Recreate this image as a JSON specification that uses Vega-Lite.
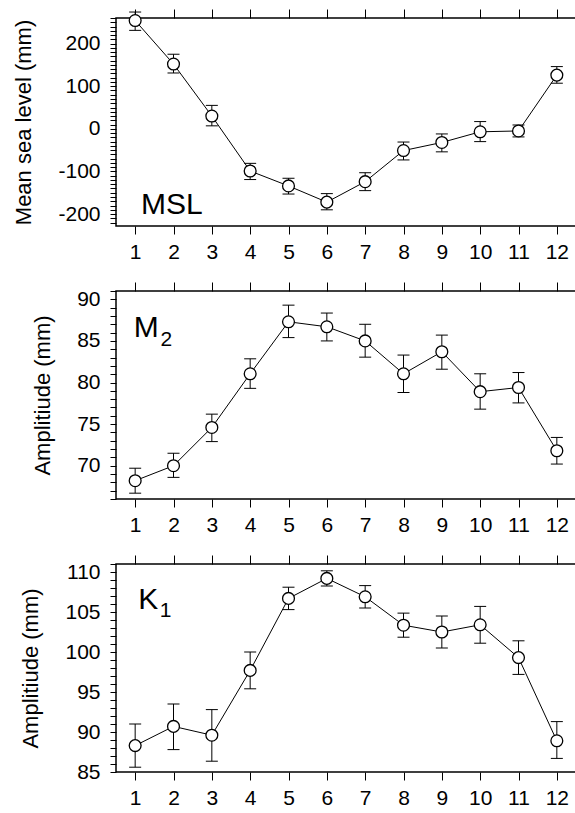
{
  "$schema": "https://vega.github.io/schema/vega-lite/v6.json",
  "background": "white",
  "padding": {"left": 12, "top": 6, "right": 1, "bottom": 0},
  "spacing": 16,
  "datasets": {
    "msl": [
      {"month": 1, "value": 254, "lo": 231, "hi": 274},
      {"month": 2, "value": 152, "lo": 131, "hi": 175},
      {"month": 3, "value": 30, "lo": 7, "hi": 55},
      {"month": 4, "value": -99, "lo": -119, "hi": -81},
      {"month": 5, "value": -134, "lo": -153, "hi": -116},
      {"month": 6, "value": -172, "lo": -190, "hi": -152},
      {"month": 7, "value": -124, "lo": -145, "hi": -103},
      {"month": 8, "value": -51, "lo": -73, "hi": -31},
      {"month": 9, "value": -32, "lo": -54, "hi": -12},
      {"month": 10, "value": -7, "lo": -30, "hi": 17},
      {"month": 11, "value": -5, "lo": -19, "hi": 9},
      {"month": 12, "value": 126, "lo": 107, "hi": 146}
    ],
    "m2": [
      {"month": 1, "value": 68.2, "lo": 66.7, "hi": 69.7},
      {"month": 2, "value": 70.0, "lo": 68.6, "hi": 71.5},
      {"month": 3, "value": 74.6, "lo": 72.9, "hi": 76.2},
      {"month": 4, "value": 81.05, "lo": 79.3, "hi": 82.85},
      {"month": 5, "value": 87.3, "lo": 85.4, "hi": 89.3},
      {"month": 6, "value": 86.7, "lo": 85.0, "hi": 88.35},
      {"month": 7, "value": 85.0, "lo": 83.05, "hi": 87.0},
      {"month": 8, "value": 81.05, "lo": 78.8, "hi": 83.3},
      {"month": 9, "value": 83.7, "lo": 81.6, "hi": 85.7},
      {"month": 10, "value": 78.9, "lo": 76.8, "hi": 81.05},
      {"month": 11, "value": 79.4, "lo": 77.55, "hi": 81.2},
      {"month": 12, "value": 71.8, "lo": 70.2, "hi": 73.4}
    ],
    "k1": [
      {"month": 1, "value": 88.3, "lo": 85.6, "hi": 91.0},
      {"month": 2, "value": 90.7, "lo": 87.8, "hi": 93.5},
      {"month": 3, "value": 89.6, "lo": 86.35, "hi": 92.8},
      {"month": 4, "value": 97.7, "lo": 95.4, "hi": 100.0},
      {"month": 5, "value": 106.7, "lo": 105.3, "hi": 108.1},
      {"month": 6, "value": 109.2, "lo": 108.25, "hi": 110.15},
      {"month": 7, "value": 106.9, "lo": 105.5, "hi": 108.3},
      {"month": 8, "value": 103.35, "lo": 101.85, "hi": 104.86},
      {"month": 9, "value": 102.5, "lo": 100.5, "hi": 104.5},
      {"month": 10, "value": 103.4, "lo": 101.1, "hi": 105.7},
      {"month": 11, "value": 99.3, "lo": 97.2, "hi": 101.4},
      {"month": 12, "value": 88.9, "lo": 86.7, "hi": 91.3}
    ]
  },
  "vconcat": [
    {
      "width": 460,
      "height": 208,
      "data": {"name": "msl"},
      "resolve": {"axis": {"x": "independent", "y": "independent"}},
      "layer": [
        {
          "mark": {"type": "line", "color": "black", "strokeWidth": 1},
          "encoding": {
            "x": {
              "field": "month", "type": "quantitative",
              "scale": {"domain": [0.5, 12.5], "nice": false, "zero": false},
              "axis": {"orient": "bottom", "values": [1, 2, 3, 4, 5, 6, 7, 8, 9, 10, 11, 12], "tickSize": 8, "labelPadding": 7, "format": "d", "title": null}
            },
            "y": {
              "field": "value", "type": "quantitative",
              "scale": {"domain": [-228, 260], "nice": false, "zero": false},
              "axis": {
                "orient": "left",
                "title": "Mean sea level (mm)",
                "values": [-220, -210, -200, -190, -180, -170, -160, -150, -140, -130, -120, -110, -100, -90, -80, -70, -60, -50, -40, -30, -20, -10, 0, 10, 20, 30, 40, 50, 60, 70, 80, 90, 100, 110, 120, 130, 140, 150, 160, 170, 180, 190, 200, 210, 220, 230, 240, 250, 260],
                "labelExpr": "datum.value % 100 === 0 ? '' + datum.value : ''",
                "tickSize": 6,
                "encode": {"ticks": {"update": {"x2": {"signal": "datum.value % 100 === 0 ? -6 : -3.5"}}}},
                "labelPadding": 10, "titlePadding": 22, "labelOverlap": false, "labelBound": false, "labelFlush": false
              }
            }
          }
        },
        {
          "mark": {"type": "rule", "color": "black", "strokeWidth": 1},
          "encoding": {
            "x": {"field": "month", "type": "quantitative", "axis": {"orient": "top", "values": [1, 2, 3, 4, 5, 6, 7, 8, 9, 10, 11, 12], "labels": false, "tickSize": 9, "title": null}},
            "y": {"field": "lo", "type": "quantitative", "axis": null},
            "y2": {"field": "hi"}
          }
        },
        {
          "mark": {"type": "tick", "orient": "horizontal", "size": 12, "thickness": 1, "color": "black", "opacity": 1},
          "encoding": {
            "x": {"field": "month", "type": "quantitative", "axis": null},
            "y": {"field": "lo", "type": "quantitative", "axis": null}
          }
        },
        {
          "mark": {"type": "tick", "orient": "horizontal", "size": 12, "thickness": 1, "color": "black", "opacity": 1},
          "encoding": {
            "x": {"field": "month", "type": "quantitative", "axis": null},
            "y": {"field": "hi", "type": "quantitative", "axis": null}
          }
        },
        {
          "mark": {"type": "point", "shape": "circle", "filled": true, "fill": "white", "stroke": "black", "strokeWidth": 1.3, "size": 140, "opacity": 1},
          "encoding": {
            "x": {"field": "month", "type": "quantitative", "axis": null},
            "y": {"field": "value", "type": "quantitative", "axis": null}
          }
        },
        {
          "data": {"values": [{}]},
          "mark": {"type": "text", "text": "MSL", "fontSize": 30, "align": "left", "baseline": "alphabetic", "color": "black"},
          "encoding": {
            "x": {"datum": 1.15, "type": "quantitative", "axis": null},
            "y": {"datum": -200, "type": "quantitative", "axis": null}
          }
        }
      ]
    },
    {
      "width": 460,
      "height": 208,
      "data": {"name": "m2"},
      "resolve": {"axis": {"x": "independent", "y": "independent"}},
      "layer": [
        {
          "mark": {"type": "line", "color": "black", "strokeWidth": 1},
          "encoding": {
            "x": {
              "field": "month", "type": "quantitative",
              "scale": {"domain": [0.5, 12.5], "nice": false, "zero": false},
              "axis": {"orient": "bottom", "values": [1, 2, 3, 4, 5, 6, 7, 8, 9, 10, 11, 12], "tickSize": 8, "labelPadding": 7, "format": "d", "title": null}
            },
            "y": {
              "field": "value", "type": "quantitative",
              "scale": {"domain": [66, 91], "nice": false, "zero": false},
              "axis": {
                "orient": "left",
                "title": "Amplitiude (mm)",
                "values": [66, 67, 68, 69, 70, 71, 72, 73, 74, 75, 76, 77, 78, 79, 80, 81, 82, 83, 84, 85, 86, 87, 88, 89, 90, 91],
                "labelExpr": "datum.value % 5 === 0 ? datum.label : ''",
                "tickSize": 6,
                "encode": {"ticks": {"update": {"x2": {"signal": "datum.value % 5 === 0 ? -6 : -3.5"}}}},
                "labelPadding": 10, "titlePadding": 22, "labelOverlap": false, "labelBound": false, "labelFlush": false
              }
            }
          }
        },
        {
          "mark": {"type": "rule", "color": "black", "strokeWidth": 1},
          "encoding": {
            "x": {"field": "month", "type": "quantitative", "axis": {"orient": "top", "values": [1, 2, 3, 4, 5, 6, 7, 8, 9, 10, 11, 12], "labels": false, "tickSize": 9, "title": null}},
            "y": {"field": "lo", "type": "quantitative", "axis": null},
            "y2": {"field": "hi"}
          }
        },
        {
          "mark": {"type": "tick", "orient": "horizontal", "size": 12, "thickness": 1, "color": "black", "opacity": 1},
          "encoding": {
            "x": {"field": "month", "type": "quantitative", "axis": null},
            "y": {"field": "lo", "type": "quantitative", "axis": null}
          }
        },
        {
          "mark": {"type": "tick", "orient": "horizontal", "size": 12, "thickness": 1, "color": "black", "opacity": 1},
          "encoding": {
            "x": {"field": "month", "type": "quantitative", "axis": null},
            "y": {"field": "hi", "type": "quantitative", "axis": null}
          }
        },
        {
          "mark": {"type": "point", "shape": "circle", "filled": true, "fill": "white", "stroke": "black", "strokeWidth": 1.3, "size": 140, "opacity": 1},
          "encoding": {
            "x": {"field": "month", "type": "quantitative", "axis": null},
            "y": {"field": "value", "type": "quantitative", "axis": null}
          }
        },
        {
          "data": {"values": [{}]},
          "mark": {"type": "text", "text": "M", "fontSize": 30, "align": "left", "baseline": "alphabetic", "color": "black"},
          "encoding": {
            "x": {"datum": 0.96, "type": "quantitative", "axis": null},
            "y": {"datum": 85.47, "type": "quantitative", "axis": null}
          }
        },
        {
          "data": {"values": [{}]},
          "mark": {"type": "text", "text": "2", "fontSize": 21, "align": "left", "baseline": "alphabetic", "color": "black"},
          "encoding": {
            "x": {"datum": 1.66, "type": "quantitative", "axis": null},
            "y": {"datum": 84.4, "type": "quantitative", "axis": null}
          }
        }
      ]
    },
    {
      "width": 460,
      "height": 208,
      "data": {"name": "k1"},
      "resolve": {"axis": {"x": "independent", "y": "independent"}},
      "layer": [
        {
          "mark": {"type": "line", "color": "black", "strokeWidth": 1},
          "encoding": {
            "x": {
              "field": "month", "type": "quantitative",
              "scale": {"domain": [0.5, 12.5], "nice": false, "zero": false},
              "axis": {"orient": "bottom", "values": [1, 2, 3, 4, 5, 6, 7, 8, 9, 10, 11, 12], "tickSize": 8, "labelPadding": 7, "format": "d", "title": null}
            },
            "y": {
              "field": "value", "type": "quantitative",
              "scale": {"domain": [85, 111], "nice": false, "zero": false},
              "axis": {
                "orient": "left",
                "title": "Amplitiude (mm)",
                "values": [85, 86, 87, 88, 89, 90, 91, 92, 93, 94, 95, 96, 97, 98, 99, 100, 101, 102, 103, 104, 105, 106, 107, 108, 109, 110, 111],
                "labelExpr": "datum.value % 5 === 0 ? datum.label : ''",
                "tickSize": 6,
                "encode": {"ticks": {"update": {"x2": {"signal": "datum.value % 5 === 0 ? -6 : -3.5"}}}},
                "labelPadding": 10, "titlePadding": 22, "labelOverlap": false, "labelBound": false, "labelFlush": false
              }
            }
          }
        },
        {
          "mark": {"type": "rule", "color": "black", "strokeWidth": 1},
          "encoding": {
            "x": {"field": "month", "type": "quantitative", "axis": {"orient": "top", "values": [1, 2, 3, 4, 5, 6, 7, 8, 9, 10, 11, 12], "labels": false, "tickSize": 9, "title": null}},
            "y": {"field": "lo", "type": "quantitative", "axis": null},
            "y2": {"field": "hi"}
          }
        },
        {
          "mark": {"type": "tick", "orient": "horizontal", "size": 12, "thickness": 1, "color": "black", "opacity": 1},
          "encoding": {
            "x": {"field": "month", "type": "quantitative", "axis": null},
            "y": {"field": "lo", "type": "quantitative", "axis": null}
          }
        },
        {
          "mark": {"type": "tick", "orient": "horizontal", "size": 12, "thickness": 1, "color": "black", "opacity": 1},
          "encoding": {
            "x": {"field": "month", "type": "quantitative", "axis": null},
            "y": {"field": "hi", "type": "quantitative", "axis": null}
          }
        },
        {
          "mark": {"type": "point", "shape": "circle", "filled": true, "fill": "white", "stroke": "black", "strokeWidth": 1.3, "size": 140, "opacity": 1},
          "encoding": {
            "x": {"field": "month", "type": "quantitative", "axis": null},
            "y": {"field": "value", "type": "quantitative", "axis": null}
          }
        },
        {
          "data": {"values": [{}]},
          "mark": {"type": "text", "text": "K", "fontSize": 30, "align": "left", "baseline": "alphabetic", "color": "black"},
          "encoding": {
            "x": {"datum": 1.08, "type": "quantitative", "axis": null},
            "y": {"datum": 105.4, "type": "quantitative", "axis": null}
          }
        },
        {
          "data": {"values": [{}]},
          "mark": {"type": "text", "text": "1", "fontSize": 21, "align": "left", "baseline": "alphabetic", "color": "black"},
          "encoding": {
            "x": {"datum": 1.64, "type": "quantitative", "axis": null},
            "y": {"datum": 104.4, "type": "quantitative", "axis": null}
          }
        }
      ]
    }
  ],
  "config": {
    "font": "Liberation Sans",
    "view": {"stroke": "black", "strokeWidth": 1.5},
    "axis": {
      "grid": false,
      "domain": false,
      "tickColor": "black",
      "tickWidth": 1,
      "labelColor": "black",
      "titleColor": "black",
      "labelFontSize": 21,
      "titleFontSize": 22,
      "titleFontWeight": "normal",
      "labelOverlap": false
    }
  }
}
